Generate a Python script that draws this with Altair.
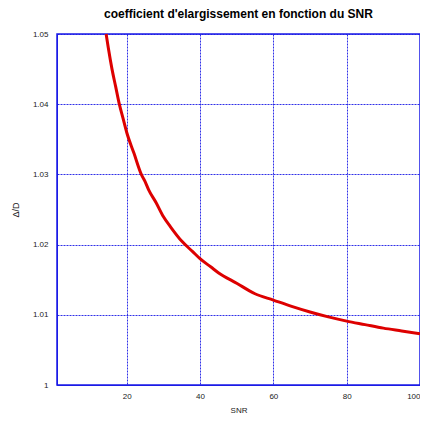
import altair as alt
import pandas as pd

snr = [14.4, 15, 16, 17, 18, 19, 20, 22, 24, 25, 26, 28, 30, 32, 35, 38, 40, 43, 45, 50, 55,
       60, 65, 70, 75, 80, 85, 90, 95, 100]
ratio = [1.050, 1.048, 1.045, 1.0425, 1.040, 1.038, 1.036, 1.033, 1.030, 1.029, 1.0278, 1.026,
         1.024, 1.0225, 1.0205, 1.019, 1.018, 1.0168, 1.016, 1.0145, 1.013, 1.0121, 1.0112,
         1.0104, 1.0097, 1.0091, 1.0086, 1.0081, 1.0077, 1.0073]
x_ticks = [20, 40, 60, 80, 100]
y_ticks = [1.0, 1.01, 1.02, 1.03, 1.04, 1.05]

df = pd.DataFrame({"snr": snr, "ratio": ratio})

grid_color = "#1a1ae6"

chart = alt.Chart(df).mark_line(color="#dd0000", strokeWidth=3, interpolate="monotone").encode(
    x=alt.X("snr:Q", title="SNR",
            scale=alt.Scale(domain=[1, 100], nice=False, zero=False),
            axis=alt.Axis(values=x_ticks, format="d", tickSize=0, labelPadding=7,
                          labelFontSize=8, titleFontSize=8, titleFontWeight="normal",
                          titlePadding=6, domainColor=grid_color,
                          gridColor=grid_color, gridDash=[2, 1], gridOpacity=0.9)),
    y=alt.Y("ratio:Q", title="Δ/D",
            scale=alt.Scale(domain=[1.0, 1.05], nice=False, zero=False),
            axis=alt.Axis(values=y_ticks, format="~g", tickSize=0, labelPadding=9,
                          labelFontSize=8, titleFontSize=9, titleFontWeight="normal",
                          titlePadding=12, domainColor=grid_color,
                          gridColor=grid_color, gridDash=[2, 1], gridOpacity=0.9)),
).properties(
    width=363, height=351,
    title=alt.TitleParams("coefficient d'elargissement en fonction du SNR",
                          fontSize=12, fontWeight="bold", font="Liberation Sans", offset=7),
    autosize=alt.AutoSizeParams(type="none"),
    padding={"left": 49, "top": 26, "right": 0, "bottom": 28},
).configure_view(
    stroke=grid_color, strokeWidth=1.5
).configure_axis(
    labelFont="Liberation Sans", titleFont="Liberation Sans",
    labelColor="#222222", titleColor="#222222"
)

chart.save("out.html", embed_options={"renderer": "svg", "actions": False})
